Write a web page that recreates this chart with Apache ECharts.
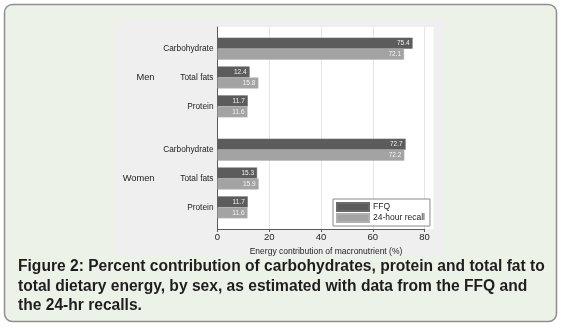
<!DOCTYPE html>
<html>
<head>
<meta charset="utf-8">
<script src="https://cdn.jsdelivr.net/npm/echarts@6/dist/echarts.min.js"></script>
<style>
  html, body { margin: 0; padding: 0; background: #ffffff; }
  #chart { width: 561px; height: 328px; }
</style>
</head>
<body>
<div id="chart"></div>
<script>
// Energy share of each macronutrient, by sex and dietary assessment method
const sexes = ['Men', 'Women'];
const nutrients = ['Carbohydrate', 'Total fats', 'Protein'];
const seriesNames = ['FFQ', '24-hour recall'];
// values listed Men (carb, fats, protein) then Women (carb, fats, protein)
const ffqValues = [75.4, 12.4, 11.7, 72.7, 15.3, 11.7];
const recallValues = [72.1, 15.8, 11.6, 72.2, 15.9, 11.6];
const xTicks = [0, 20, 40, 60, 80];
const xAxisTitle = 'Energy contribution of macronutrient (%)';
const caption = 'Figure 2: Percent contribution of carbohydrates, protein and total fat to\n' +
  'total dietary energy, by sex, as estimated with data from the FFQ and\n' +
  'the 24-hr recalls.';

// Each sex block: spacer, nutrient, spacer, nutrient, spacer, nutrient, spacer
const nutrientSlots = [];
const sexSlots = [];
const ffqSlots = [];
const recallSlots = [];
sexes.forEach((sex, s) => {
  const block = [];
  block.push(null);
  nutrients.forEach((n, i) => {
    block.push(s * nutrients.length + i);
    if (i < nutrients.length - 1) block.push(null);
  });
  block.push(null);
  block.forEach((idx, k) => {
    nutrientSlots.push(idx === null ? '' : nutrients[idx % nutrients.length]);
    sexSlots.push(k === Math.floor(block.length / 2) ? sex : '');
    ffqSlots.push(idx === null ? null : ffqValues[idx]);
    recallSlots.push(idx === null ? null : recallValues[idx]);
  });
});

const FONT = '"Liberation Sans", Arial, sans-serif';
const GRID = { left: 217.5, right: 136.5, top: 27, bottom: 99 };

const chart = echarts.init(document.getElementById('chart'), null, { renderer: 'canvas' });

const valueLabel = {
  show: true,
  position: 'insideRight',
  distance: 3,
  color: '#f2f2f2',
  fontSize: 6.5,
  fontFamily: FONT,
  formatter: p => p.value.toFixed(1)
};

chart.setOption({
  animation: false,
  textStyle: { fontFamily: FONT },
  graphic: [
    {
      type: 'rect', z: -30, silent: true,
      shape: { x: 4.5, y: 4.5, width: 552, height: 317, r: 8 },
      style: { fill: '#edf2e8', stroke: '#8e8e8e', lineWidth: 1.5 }
    },
    {
      type: 'rect', z: -20, silent: true,
      shape: { x: 118, y: 18, width: 325, height: 238 },
      style: { fill: '#efefef' }
    },
    {
      type: 'rect', z: -10, silent: true,
      shape: { x: 217.5, y: 27, width: 216, height: 202 },
      style: { fill: '#ffffff' }
    }
  ],
  title: {
    text: caption,
    left: 18,
    top: 257,
    padding: 0,
    textStyle: {
      fontFamily: FONT,
      fontSize: 15.6,
      fontWeight: 'bold',
      lineHeight: 19.5,
      color: '#1e1e1e'
    }
  },
  legend: {
    orient: 'vertical',
    left: 333,
    top: 199,
    data: seriesNames,
    icon: 'rect',
    itemWidth: 32,
    itemHeight: 8,
    itemGap: 1,
    padding: [3, 5, 3, 3],
    backgroundColor: '#ffffff',
    borderColor: '#8a8a8a',
    borderWidth: 1,
    textStyle: { fontSize: 8.5, color: '#222', fontFamily: FONT, padding: [0, 0, 0, -1] }
  },
  grid: GRID,
  xAxis: {
    type: 'value',
    min: xTicks[0],
    max: xTicks[xTicks.length - 1],
    interval: xTicks[1] - xTicks[0],
    name: xAxisTitle,
    nameLocation: 'middle',
    nameGap: 7,
    nameTextStyle: { fontSize: 8.5, color: '#222', fontFamily: FONT, padding: [0, 0, 0, 10] },
    axisLine: { show: true, lineStyle: { color: '#5a5a5a', width: 1 } },
    axisTick: { show: true, length: 3, lineStyle: { color: '#5a5a5a' } },
    axisLabel: { fontSize: 9.5, color: '#222', margin: 3, fontFamily: FONT },
    splitLine: { show: true, lineStyle: { color: '#e4e4e4', width: 1 } }
  },
  yAxis: [
    {
      type: 'category',
      inverse: true,
      data: nutrientSlots,
      axisLine: { show: true, lineStyle: { color: '#5a5a5a', width: 1 } },
      axisTick: { show: false },
      axisLabel: { fontSize: 8.3, color: '#222', margin: 4, interval: 0, fontFamily: FONT },
      splitLine: { show: false }
    },
    {
      type: 'category',
      inverse: true,
      position: 'left',
      offset: 0,
      data: sexSlots,
      axisLine: { show: false },
      axisTick: { show: false },
      axisLabel: { fontSize: 9.3, color: '#222', margin: 63, interval: 0, fontFamily: FONT },
      splitLine: { show: false }
    }
  ],
  series: [
    {
      name: seriesNames[0],
      type: 'bar',
      yAxisIndex: 0,
      data: ffqSlots,
      barWidth: 11,
      barGap: '0%',
      itemStyle: { color: '#5c5c5c', borderColor: '#6a6a6a', borderWidth: 0.5 },
      label: valueLabel
    },
    {
      name: seriesNames[1],
      type: 'bar',
      yAxisIndex: 0,
      data: recallSlots,
      barWidth: 11,
      barGap: '0%',
      itemStyle: { color: '#a3a3a3', borderColor: '#b0b0b0', borderWidth: 0.5 },
      label: valueLabel
    }
  ]
});
</script>
</body>
</html>
